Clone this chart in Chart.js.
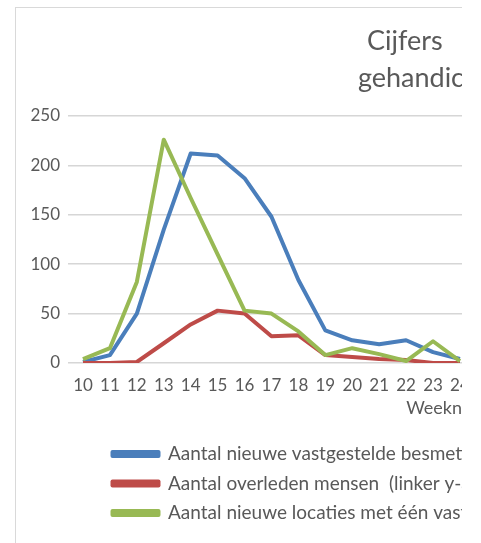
<!DOCTYPE html>
<html>
<head>
<meta charset="utf-8">
<script src="https://cdn.jsdelivr.net/npm/chart.js@4.4.1/dist/chart.umd.min.js"></script>
<style>
  body { margin: 0; background: #fff; }
  #box {
    position: absolute; left: 15px; top: 7px;
    width: 446px; height: 536px; overflow: hidden;
    border-left: 1px solid #d9d9d9; border-top: 1px solid #d9d9d9;
  }
  #chart { display: block; }
</style>
</head>
<body>
<div id="box"><canvas id="chart" width="908" height="535"></canvas></div>
<script>
var weeks = [10, 11, 12, 13, 14, 15, 16, 17, 18, 19, 20, 21, 22, 23, 24]
var besmettingen = [1, 8, 50, 135, 212, 210, 187, 148, 84, 33, 23, 19, 23, 11, 4]
var overleden = [0, 0, 1, 20, 39, 53, 50, 27, 28, 8, 6, 4, 3, 0, 0]
var locaties = [4, 15, 82, 226, 167, 110, 53, 50, 32, 8, 15, 9, 2, 22, 2]
var yTicks = [0, 50, 100, 150, 200, 250]

var labels = [
  "Aantal nieuwe vastgestelde besmettingen (linker y-as)",
  "Aantal overleden mensen  (linker y-as)",
  "Aantal nieuwe locaties met één vastgestelde besmetting (linker y-as)"
]
var titleLines = ["Cijfers   Covid-19", "gehandicaptenzorg"]

var grey = "#595959"
var font = "Lato"

function points(values) {
  return weeks.map(function(w, i) { return { x: w, y: values[i] } })
}

// legend sits under the chart area, nudged right like the original
var legendShift = {
  id: "legendShift",
  afterLayout: function(chart) {
    chart.legend.left += 34
    chart.legend.right += 34
  }
}

function series(label, values, colour, order) {
  return {
    label: label,
    data: points(values),
    borderColor: colour,
    backgroundColor: colour,
    borderWidth: 4,
    borderJoinStyle: "round",
    pointRadius: 0,
    tension: 0,
    order: order
  }
}

new Chart(document.getElementById("chart"), {
  type: "line",
  data: {
    datasets: [
      series(labels[0], besmettingen, "#4a7ebb", 2),
      series(labels[1], overleden, "#be4b48", 1),
      series(labels[2], locaties, "#98b954", 0)
    ]
  },
  plugins: [legendShift],
  options: {
    responsive: false,
    animation: false,
    devicePixelRatio: 1,
    layout: { padding: { bottom: 10.5 } },
    scales: {
      x: {
        type: "linear",
        min: 9.443,
        max: 38.71,
        grid: { display: false },
        border: { display: false },
        afterFit: function(scale) { scale.height = 71 },
        ticks: {
          stepSize: 1,
          includeBounds: false,
          autoSkip: false,
          maxRotation: 0,
          padding: 4,
          color: grey,
          font: { family: font, size: 17 }
        },
        title: {
          display: true,
          text: "Weeknummer",
          color: grey,
          font: { family: font, size: 18 },
          padding: { top: 0, bottom: 15 }
        }
      },
      y: {
        min: 0,
        max: 250,
        afterFit: function(scale) { scale.width = 52 },
        afterBuildTicks: function(scale) {
          scale.ticks = yTicks.map(function(v) { return { value: v } })
        },
        grid: { color: "#d6d6d6", lineWidth: 1.5, drawTicks: false },
        border: { display: false },
        ticks: {
          padding: 8,
          color: grey,
          font: { family: font, size: 17 }
        }
      },
      y1: {
        position: "right",
        min: 0,
        max: 250,
        afterFit: function(scale) { scale.width = 68 },
        grid: { display: false },
        border: { display: false },
        ticks: { display: false }
      }
    },
    plugins: {
      title: {
        display: true,
        text: titleLines,
        color: grey,
        font: { family: font, size: 27, weight: "normal", lineHeight: 1.37 },
        padding: { top: 15, bottom: 19 }
      },
      legend: {
        position: "bottom",
        align: "start",
        fullSize: false,
        labels: {
          boxWidth: 46,
          boxHeight: 4,
          padding: 10.5,
          color: grey,
          font: { family: font, size: 19 },
          sort: function(a, b) { return a.datasetIndex - b.datasetIndex }
        }
      },
      tooltip: { enabled: false }
    }
  }
})
</script>
</body>
</html>
